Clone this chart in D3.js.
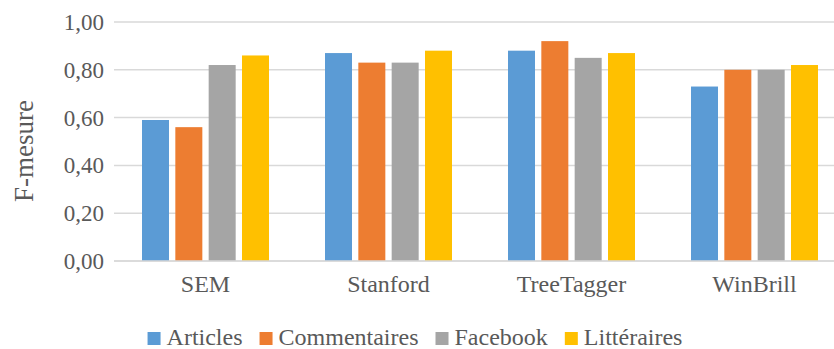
<!DOCTYPE html>
<html>
<head>
<meta charset="utf-8">
<script src="https://cdn.jsdelivr.net/npm/d3@7"></script>
<style>
  html, body { margin: 0; padding: 0; background: #fff; }
  svg { display: block; }
  text { font-family: "Liberation Serif", "Times New Roman", serif; fill: #595959; }
</style>
</head>
<body>
<svg id="chart" width="834" height="349"></svg>
<script>
const categories = ["SEM", "Stanford", "TreeTagger", "WinBrill"];
const seriesNames = ["Articles", "Commentaires", "Facebook", "Littéraires"];
const articles     = [0.59, 0.87, 0.88, 0.73];
const commentaires = [0.56, 0.83, 0.92, 0.80];
const facebook     = [0.82, 0.83, 0.85, 0.80];
const litteraires  = [0.86, 0.88, 0.87, 0.82];
const yTicks = [0, 0.2, 0.4, 0.6, 0.8, 1.0];
const colors = ["#5B9BD5", "#ED7D31", "#A5A5A5", "#FFC000"];
const yLabel = "F-mesure";

const seriesValues = [articles, commentaires, facebook, litteraires];

const svg = d3.select("#chart");
const plot = { left: 114, right: 846, top: 22, bottom: 261 };

const y = d3.scaleLinear().domain([0, 1]).range([plot.bottom, plot.top]);
const x0 = d3.scaleBand().domain(categories).range([plot.left, plot.right]).padding(0);
const groupPad = 28;
const x1 = d3.scaleBand().domain(seriesNames)
  .range([groupPad, x0.bandwidth() - groupPad]).paddingInner(0.19).paddingOuter(0);
const color = d3.scaleOrdinal().domain(seriesNames).range(colors);
const fmt = v => d3.format(".2f")(v).replace(".", ",");

// gridlines
svg.append("g").selectAll("line").data(yTicks).join("line")
  .attr("x1", plot.left).attr("x2", plot.right)
  .attr("y1", d => y(d)).attr("y2", d => y(d))
  .attr("stroke", "#D9D9D9").attr("stroke-width", 1.5);

// y tick labels
svg.append("g").selectAll("text").data(yTicks).join("text")
  .attr("x", 104).attr("y", d => y(d)).attr("dy", "0.35em")
  .attr("text-anchor", "end").attr("font-size", 23)
  .text(fmt);

// bars
const groups = svg.append("g").selectAll("g").data(categories).join("g")
  .attr("transform", c => `translate(${x0(c)},0)`);
groups.selectAll("rect")
  .data((c, ci) => seriesNames.map((s, si) => ({ s, v: seriesValues[si][ci] })))
  .join("rect")
  .attr("x", d => x1(d.s)).attr("width", x1.bandwidth())
  .attr("y", d => y(d.v)).attr("height", d => y(0) - y(d.v))
  .attr("fill", d => color(d.s));

// baseline
svg.append("line").attr("x1", plot.left).attr("x2", plot.right)
  .attr("y1", y(0)).attr("y2", y(0)).attr("stroke", "#D9D9D9").attr("stroke-width", 1.5);

// category labels
svg.append("g").selectAll("text").data(categories).join("text")
  .attr("x", c => x0(c) + x0.bandwidth() / 2).attr("y", 292)
  .attr("text-anchor", "middle").attr("font-size", 24)
  .text(c => c);

// y label
svg.append("text").attr("transform", "translate(33,151) rotate(-90)")
  .attr("text-anchor", "middle").attr("font-size", 27).text(yLabel);

// legend
const legend = svg.append("g");
const items = legend.selectAll("g").data(seriesNames).join("g");
items.append("rect").attr("width", 13).attr("height", 13).attr("y", -13)
  .attr("fill", d => color(d));
items.append("text").attr("x", 19).attr("y", 0)
  .attr("font-size", 24).text(d => d);
let cx = 0;
items.each(function() {
  const g = d3.select(this);
  g.attr("transform", `translate(${cx},0)`);
  const w = 19 + g.select("text").node().getComputedTextLength();
  cx += w + 17;
});
const total = cx - 17;
legend.attr("transform", `translate(${415 - total / 2},345)`);
</script>
</body>
</html>
